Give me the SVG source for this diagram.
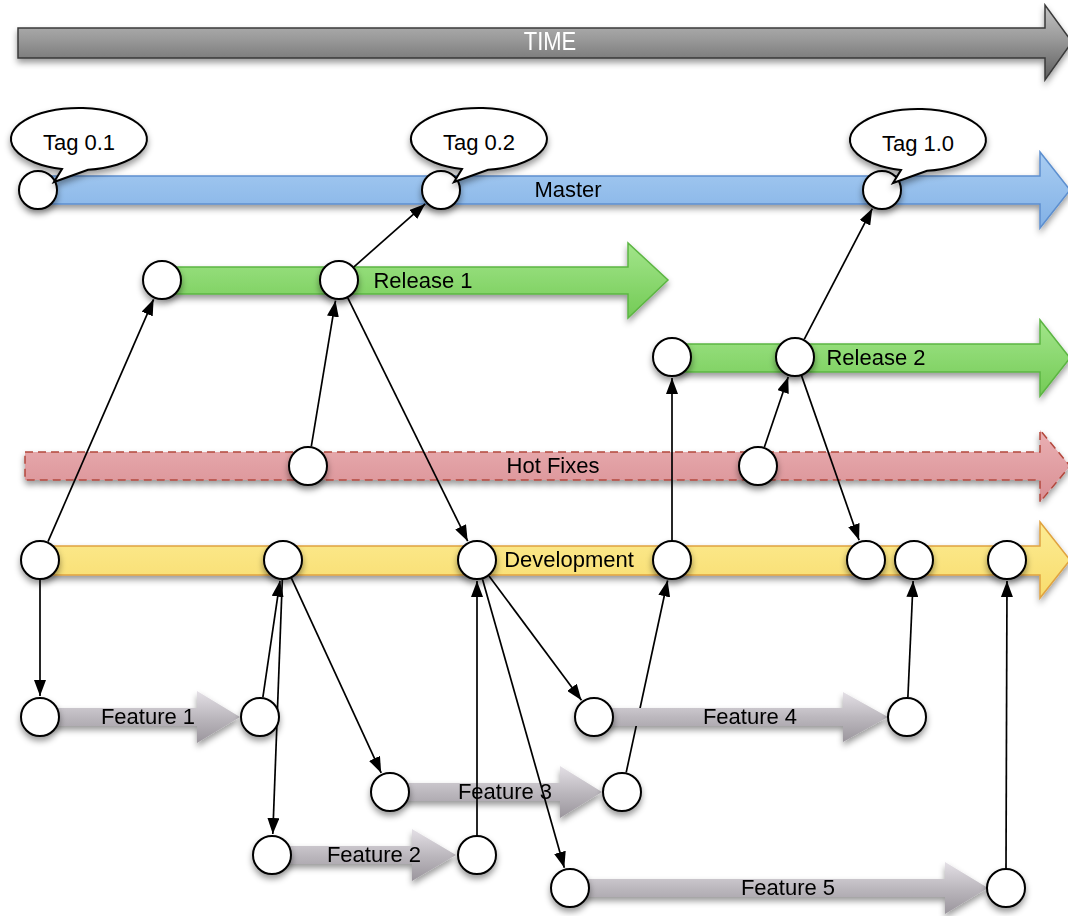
<svg xmlns="http://www.w3.org/2000/svg" width="1068" height="916" viewBox="0 0 1068 916">
<defs>
<filter id="sh" x="-20%" y="-30%" width="140%" height="180%">
<feDropShadow dx="0" dy="4" stdDeviation="3" flood-color="#000" flood-opacity="0.4"/>
</filter>
<linearGradient id="gTime" x1="0" y1="0" x2="0" y2="1">
<stop offset="0" stop-color="#c4c4c4"/><stop offset="0.45" stop-color="#9a9a9a"/><stop offset="1" stop-color="#5e5e5e"/>
</linearGradient>
<linearGradient id="gBlue" x1="0" y1="0" x2="0" y2="1">
<stop offset="0" stop-color="#a9cdf2"/><stop offset="1" stop-color="#82b1e6"/>
</linearGradient>
<linearGradient id="gGreen" x1="0" y1="0" x2="0" y2="1">
<stop offset="0" stop-color="#a2e58a"/><stop offset="1" stop-color="#74cb56"/>
</linearGradient>
<linearGradient id="gRed" x1="0" y1="0" x2="0" y2="1">
<stop offset="0" stop-color="#eab0b3"/><stop offset="1" stop-color="#d98f94"/>
</linearGradient>
<linearGradient id="gYellow" x1="0" y1="0" x2="0" y2="1">
<stop offset="0" stop-color="#fcec94"/><stop offset="1" stop-color="#f8dc6c"/>
</linearGradient>
<linearGradient id="gFeat" x1="0" y1="0" x2="0" y2="1">
<stop offset="0" stop-color="#e4e0e6"/><stop offset="0.5" stop-color="#bcb8be"/><stop offset="1" stop-color="#9b969d"/>
</linearGradient>
<marker id="ah" viewBox="0 0 16 12" refX="16" refY="6" markerWidth="16" markerHeight="12" markerUnits="userSpaceOnUse" orient="auto">
<path d="M0,0 L16,6 L0,12 Z" fill="#000"/>
</marker>
</defs>
<style>
text{font-family:"Liberation Sans",Arial,Helvetica,sans-serif;font-size:22px;fill:#000;text-anchor:middle}
.lane{filter:url(#sh)}
.time{fill:url(#gTime);stroke:#3a3a3a;stroke-width:1.5}
.blue{fill:url(#gBlue);stroke:#5d8fcf;stroke-width:1.5}
.green{fill:url(#gGreen);stroke:#5cb543;stroke-width:1.5}
.red{fill:url(#gRed);stroke:#b3473c;stroke-width:1.5;stroke-dasharray:8 5}
.yellow{fill:url(#gYellow);stroke:#e0a340;stroke-width:1.5}
.feat{fill:url(#gFeat);stroke:none}
.node circle{fill:#fff;stroke:#000;stroke-width:2;filter:url(#sh)}
.callout{fill:#fff;stroke:#000;stroke-width:2;filter:url(#sh)}
#connectors line{stroke:#000;stroke-width:1.7;fill:none;marker-end:url(#ah)}
</style>

<g id="time" class="lane">
<path class="time" d="M18,28 H1045 V5 L1072,42 L1045,80 V58 H18 Z"/>
<text x="550" y="43" style="fill:#fff" transform="translate(0 50) scale(1 1.15) translate(0 -43)">TIME</text>
</g>

<g id="lane-master" class="lane">
<path class="blue" d="M30,176 H1040 V152 L1070,190 L1040,228 V204 H30 Z"/>
<text x="568" y="197">Master</text>
</g>
<g id="lane-release1" class="lane">
<path class="green" d="M165,267 H628 V243 L668,280 L628,318 V294 H165 Z"/>
<text x="423" y="288">Release 1</text>
</g>
<g id="lane-release2" class="lane">
<path class="green" d="M675,344 H1040 V320 L1070,358 L1040,396 V372 H675 Z"/>
<text x="876" y="365">Release 2</text>
</g>
<g id="lane-hotfixes" class="lane">
<path class="red" d="M25,452 H1040 V430 L1070,466 L1040,502 V480 H25 Z"/>
<text x="553" y="473">Hot Fixes</text>
</g>
<g id="lane-development" class="lane">
<path class="yellow" d="M42,546 H1040 V522 L1070,560 L1040,598 V575 H42 Z"/>
<text x="569" y="567">Development</text>
</g>
<g id="lane-feature1" class="lane">
<path class="feat" d="M45,708 H197 V691 L240,717 L197,743 V726 H45 Z"/>
<text x="148" y="724">Feature 1</text>
</g>
<g id="lane-feature2" class="lane">
<path class="feat" d="M277,846 H412 V829 L456,855 L412,881 V864 H277 Z"/>
<text x="374" y="862">Feature 2</text>
</g>
<g id="lane-feature3" class="lane">
<path class="feat" d="M395,783 H560 V766 L602,792 L560,818 V801 H395 Z"/>
<text x="505" y="799">Feature 3</text>
</g>
<g id="lane-feature5" class="lane">
<path class="feat" d="M575,879 H945 V862 L988,888 L945,914 V897 H575 Z"/>
<text x="788" y="895">Feature 5</text>
</g>

<g id="connectors">
<line x1="48" y1="541.7" x2="153.6" y2="299.3"/>
<line x1="40" y1="580" x2="40" y2="696"/>
<line x1="311.3" y1="446.3" x2="335.5" y2="300.7"/>
<line x1="354" y1="266.8" x2="425.2" y2="203.9"/>
<line x1="347.8" y1="297.9" x2="467.7" y2="541.2"/>
<line x1="262.9" y1="697.2" x2="280" y2="580.8"/>
<line x1="282.3" y1="580" x2="272.8" y2="834"/>
<line x1="291.4" y1="578.2" x2="381.2" y2="772.9"/>
<line x1="477" y1="835" x2="477" y2="581"/>
<line x1="489" y1="576" x2="581.5" y2="700.2"/>
<line x1="482.5" y1="579.2" x2="564.3" y2="867.8"/>
<line x1="626.2" y1="772.4" x2="667.6" y2="580.5"/>
<line x1="672" y1="540" x2="672" y2="378"/>
<line x1="764.4" y1="447.1" x2="788.2" y2="376.9"/>
<line x1="804.2" y1="339.3" x2="872.3" y2="208.6"/>
<line x1="801.6" y1="375.9" x2="859.1" y2="540.2"/>
<line x1="907.9" y1="697" x2="913.1" y2="581"/>
<line x1="1006" y1="868" x2="1007" y2="581"/>
</g>

<g id="lane-feature4" class="lane">
<path class="feat" d="M600,708 H843 V692 L888,717 L843,742 V726 H600 Z"/>
<text x="750" y="724">Feature 4</text>
</g>

<g id="n-master-1" class="node"><circle cx="38" cy="190" r="19"/></g>
<g id="n-master-2" class="node"><circle cx="441" cy="190" r="19"/></g>
<g id="n-master-3" class="node"><circle cx="882" cy="190" r="19"/></g>

<g id="tag-0-1"><path class="callout" d="M62,169 A68,31 0 1 1 88,169.7 L54,182 Z"/><text x="79" y="150">Tag 0.1</text></g>
<g id="tag-0-2"><path class="callout" d="M462,169 A68,31 0 1 1 488,169.7 L454,182 Z"/><text x="479" y="150">Tag 0.2</text></g>
<g id="tag-1-0"><path class="callout" d="M901,170 A68,31 0 1 1 927,170.7 L893,183 Z"/><text x="918" y="151">Tag 1.0</text></g>

<g id="n-rel1-1" class="node"><circle cx="162" cy="280" r="19"/></g>
<g id="n-rel1-2" class="node"><circle cx="339" cy="280" r="19"/></g>
<g id="n-rel2-1" class="node"><circle cx="672" cy="357" r="19"/></g>
<g id="n-rel2-2" class="node"><circle cx="795" cy="357" r="19"/></g>
<g id="n-hf-1" class="node"><circle cx="308" cy="466" r="19"/></g>
<g id="n-hf-2" class="node"><circle cx="758" cy="466" r="19"/></g>
<g id="n-dev-1" class="node"><circle cx="40" cy="560" r="19"/></g>
<g id="n-dev-2" class="node"><circle cx="283" cy="560" r="19"/></g>
<g id="n-dev-3" class="node"><circle cx="477" cy="560" r="19"/></g>
<g id="n-dev-4" class="node"><circle cx="672" cy="560" r="19"/></g>
<g id="n-dev-5" class="node"><circle cx="866" cy="560" r="19"/></g>
<g id="n-dev-6" class="node"><circle cx="914" cy="560" r="19"/></g>
<g id="n-dev-7" class="node"><circle cx="1007" cy="560" r="19"/></g>
<g id="n-f1-1" class="node"><circle cx="40" cy="717" r="19"/></g>
<g id="n-f1-2" class="node"><circle cx="260" cy="717" r="19"/></g>
<g id="n-f2-1" class="node"><circle cx="272" cy="855" r="19"/></g>
<g id="n-f2-2" class="node"><circle cx="477" cy="855" r="19"/></g>
<g id="n-f3-1" class="node"><circle cx="390" cy="792" r="19"/></g>
<g id="n-f3-2" class="node"><circle cx="622" cy="792" r="19"/></g>
<g id="n-f4-1" class="node"><circle cx="594" cy="717" r="19"/></g>
<g id="n-f4-2" class="node"><circle cx="907" cy="717" r="19"/></g>
<g id="n-f5-1" class="node"><circle cx="570" cy="888" r="19"/></g>
<g id="n-f5-2" class="node"><circle cx="1006" cy="888" r="19"/></g>
</svg>
